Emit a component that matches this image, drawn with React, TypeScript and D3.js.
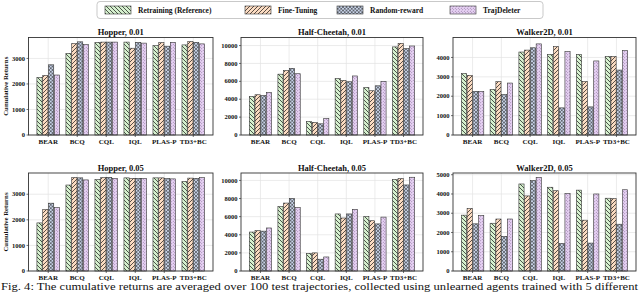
import React from 'react';
import * as d3 from 'd3';

const categories = ['BEAR', 'BCQ', 'CQL', 'IQL', 'PLAS-P', 'TD3+BC'];
const methods = ['Retraining (Reference)', 'Fine-Tuning', 'Random-reward', 'TrajDeleter'];

// series order: Retraining, Fine-Tuning, Random-reward, TrajDeleter
const hopper001 = [
  [2250, 3200, 3630, 3640, 3500, 3530],
  [2330, 3580, 3640, 3400, 3620, 3660],
  [2750, 3650, 3640, 3630, 3480, 3630],
  [2350, 3540, 3640, 3600, 3630, 3570],
];
const cheetah001 = [
  [4300, 6800, 1500, 6300, 5300, 9850],
  [4500, 7200, 1400, 6100, 4950, 10250],
  [4400, 7450, 1250, 5950, 5500, 9650],
  [4750, 6850, 1850, 6600, 6000, 9950],
];
const walker001 = [
  [3170, 2350, 4280, 4150, 4150, 4050],
  [3080, 2750, 4380, 4560, 2760, 4050],
  [2250, 2080, 4500, 1400, 1450, 3350],
  [2250, 2680, 4700, 4300, 3820, 4350],
];
const hopper005 = [
  [1880, 3360, 3570, 3640, 3640, 3500],
  [2400, 3650, 3650, 3620, 3640, 3630],
  [2650, 3640, 3660, 3620, 3610, 3620],
  [2480, 3560, 3620, 3620, 3600, 3650],
];
const cheetah005 = [
  [4300, 7100, 1950, 6300, 6000, 10100],
  [4450, 7500, 2000, 5850, 5550, 10200],
  [4400, 8000, 1300, 6300, 5200, 9500],
  [4750, 7000, 1550, 6800, 5950, 10350],
];
const walker005 = [
  [2900, 2480, 4520, 4350, 4200, 3780],
  [3250, 2700, 3900, 4170, 2640, 3760],
  [2450, 1800, 4700, 1430, 1450, 2430],
  [2880, 2700, 4860, 4030, 4000, 4220],
];

const hopperTicks = [0, 1000, 2000, 3000];
const cheetahTicks = [0, 2000, 4000, 6000, 8000, 10000];
const walkerTicks001 = [0, 1000, 2000, 3000, 4000];
const walkerTicks005 = [0, 1000, 2000, 3000, 4000, 5000];

const titles = ['Hopper, 0.01', 'Half-Cheetah, 0.01', 'Walker2D, 0.01', 'Hopper, 0.05', 'Half-Cheetah, 0.05', 'Walker2D, 0.05'];

const fills = ['#d6f1cf', '#fcdcc2', '#c9d5eb', '#e6d1f3'];
const patternIds = ['pat-back', 'pat-fwd', 'pat-cross', 'pat-dots'];

const FONT = '"Liberation Serif", "DejaVu Serif", serif';

type PanelDef = { title: string; data: number[][]; ticks: number[]; yMax: number; x0: number; x1: number; y0: number; y1: number; ylabel: boolean };

const colX = [[28.5, 213], [241, 423], [453, 636]];
const rowY = [[37.5, 135], [173, 271]];

const panels: PanelDef[] = [
  { title: titles[0], data: hopper001, ticks: hopperTicks, yMax: 3820, x0: colX[0][0], x1: colX[0][1], y0: rowY[0][0], y1: rowY[0][1], ylabel: true },
  { title: titles[1], data: cheetah001, ticks: cheetahTicks, yMax: 10900, x0: colX[1][0], x1: colX[1][1], y0: rowY[0][0], y1: rowY[0][1], ylabel: false },
  { title: titles[2], data: walker001, ticks: walkerTicks001, yMax: 5030, x0: colX[2][0], x1: colX[2][1], y0: rowY[0][0], y1: rowY[0][1], ylabel: false },
  { title: titles[3], data: hopper005, ticks: hopperTicks, yMax: 3830, x0: colX[0][0], x1: colX[0][1], y0: rowY[1][0], y1: rowY[1][1], ylabel: true },
  { title: titles[4], data: cheetah005, ticks: cheetahTicks, yMax: 10820, x0: colX[1][0], x1: colX[1][1], y0: rowY[1][0], y1: rowY[1][1], ylabel: false },
  { title: titles[5], data: walker005, ticks: walkerTicks005, yMax: 5090, x0: colX[2][0], x1: colX[2][1], y0: rowY[1][0], y1: rowY[1][1], ylabel: false },
];

function Patterns() {
  return (
    <defs>
      <pattern id="pat-back" patternUnits="userSpaceOnUse" width="4" height="4">
        <rect width="4" height="4" fill={fills[0]} />
        <path d="M-1,-1 L5,5 M-1,3 L1,5 M3,-1 L5,1" stroke="#111" strokeWidth="0.7" />
      </pattern>
      <pattern id="pat-fwd" patternUnits="userSpaceOnUse" width="4" height="4">
        <rect width="4" height="4" fill={fills[1]} />
        <path d="M-1,5 L5,-1 M-1,1 L1,-1 M3,5 L5,3" stroke="#111" strokeWidth="0.7" />
      </pattern>
      <pattern id="pat-cross" patternUnits="userSpaceOnUse" width="3.5" height="3.5">
        <rect width="3.5" height="3.5" fill={fills[2]} />
        <path d="M0,0 L3.5,3.5 M0,3.5 L3.5,0" stroke="#222" strokeWidth="0.55" />
      </pattern>
      <pattern id="pat-dots" patternUnits="userSpaceOnUse" width="3" height="3">
        <rect width="3" height="3" fill={fills[3]} />
        <circle cx="0.75" cy="0.75" r="0.45" fill="#6a4a7a" />
        <circle cx="2.25" cy="2.25" r="0.45" fill="#6a4a7a" />
      </pattern>
    </defs>
  );
}

function Panel({ p }: { p: PanelDef }) {
  const x = d3.scaleLinear().domain([-0.68, 5.68]).range([p.x0, p.x1]);
  const y = d3.scaleLinear().domain([0, p.yMax]).range([p.y1, p.y0]);
  const bw = 0.18;
  const step = 0.2;
  const fmt = d3.format('d');
  return (
    <g>
      <rect x={p.x0} y={p.y0} width={p.x1 - p.x0} height={p.y1 - p.y0} fill="#fff" />
      {p.ticks.map((t) => (
        <line key={'gy' + t} x1={p.x0} x2={p.x1} y1={y(t)} y2={y(t)} stroke="#e2e2e2" strokeWidth={0.7} />
      ))}
      {categories.map((c, i) => (
        <line key={'gx' + c} x1={x(i)} x2={x(i)} y1={p.y0} y2={p.y1} stroke="#e2e2e2" strokeWidth={0.7} />
      ))}
      {p.data.map((series, s) =>
        series.map((v, i) => {
          const cx = i + (s - 1.5) * step;
          const xl = x(cx - bw / 2);
          const xr = x(cx + bw / 2);
          return (
            <rect
              key={s + '-' + i}
              x={xl}
              y={y(v)}
              width={xr - xl}
              height={y(0) - y(v)}
              fill={`url(#${patternIds[s]})`}
              stroke="#333"
              strokeWidth={0.6}
            />
          );
        })
      )}
      <rect x={p.x0} y={p.y0} width={p.x1 - p.x0} height={p.y1 - p.y0} fill="none" stroke="#333" strokeWidth={0.9} />
      {p.ticks.map((t) => (
        <g key={'ty' + t}>
          <line x1={p.x0 - 2} x2={p.x0} y1={y(t)} y2={y(t)} stroke="#333" strokeWidth={0.7} />
          <text x={p.x0 - 3.5} y={y(t)} dy="0.33em" textAnchor="end" fontSize={6.5} fontWeight="bold" fontFamily={FONT} fill="#111">
            {fmt(t)}
          </text>
        </g>
      ))}
      {categories.map((c, i) => (
        <g key={'tx' + c}>
          <line x1={x(i)} x2={x(i)} y1={p.y1} y2={p.y1 + 2} stroke="#333" strokeWidth={0.7} />
          <text x={x(i)} y={p.y1 + 8.5} textAnchor="middle" fontSize={7} fontWeight="bold" fontFamily={FONT} fill="#111">
            {c}
          </text>
        </g>
      ))}
      <text x={(p.x0 + p.x1) / 2} y={p.y0 - 2.5} textAnchor="middle" fontSize={8.5} fontWeight="bold" fontFamily={FONT} fill="#111">
        {p.title}
      </text>
      {p.ylabel && (
        <text
          transform={`translate(${8},${(p.y0 + p.y1) / 2}) rotate(-90)`}
          textAnchor="middle"
          fontSize={6.8}
          fontWeight="bold"
          fontFamily={FONT}
          fill="#111"
        >
          Cumulative Returns
        </text>
      )}
    </g>
  );
}

const legendSwatchX = [105, 245, 337, 450];

function Legend() {
  return (
    <g>
      <rect x={97} y={1.5} width={446} height={17} rx={3} fill="#fff" stroke="#bbb" strokeWidth={0.8} />
      {methods.map((m, i) => (
        <g key={m}>
          <rect x={legendSwatchX[i]} y={6} width={26} height={8} fill={`url(#${patternIds[i]})`} stroke="#333" strokeWidth={0.6} />
          <text x={legendSwatchX[i] + 33} y={12.8} fontSize={7.5} fontWeight="bold" fontFamily={FONT} fill="#111">
            {m}
          </text>
        </g>
      ))}
    </g>
  );
}

export default function App() {
  return (
    <svg width={640} height={295} style={{ position: 'absolute', left: 0, top: 0, background: '#fff' }}>
      <Patterns />
      <rect width={640} height={295} fill="#fff" />
      <Legend />
      {panels.map((p) => (
        <Panel key={p.title} p={p} />
      ))}
      <text x={1} y={290} fontSize={10.5} fontFamily={FONT} fill="#111" textLength={637} lengthAdjust="spacingAndGlyphs">
        Fig. 4: The cumulative returns are averaged over 100 test trajectories, collected using unlearned agents trained with 5 different
      </text>
    </svg>
  );
}
